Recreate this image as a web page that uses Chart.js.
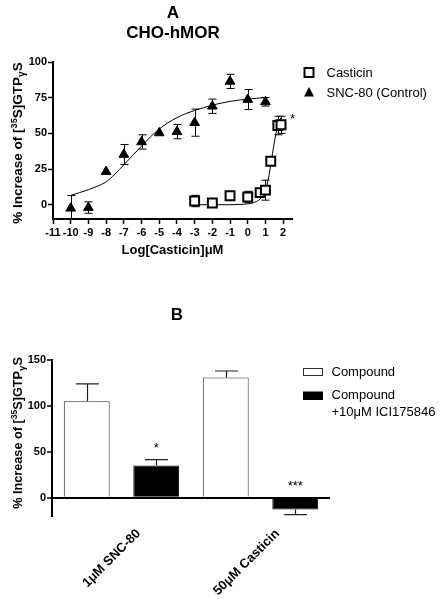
<!DOCTYPE html>
<html><head><meta charset="utf-8">
<script src="https://cdn.jsdelivr.net/npm/chart.js@4.4.0/dist/chart.umd.min.js"></script>
<style>
body{margin:0;background:#fff;width:442px;height:599px;position:relative;overflow:hidden;font-family:"Liberation Sans",Arial,sans-serif;color:#000;}
canvas{position:absolute;left:0;}
.t{position:absolute;font-weight:bold;white-space:nowrap;transform:translate(-50%,-50%);line-height:1;}
.yt{position:absolute;font-weight:bold;white-space:nowrap;transform:translate(-50%,-50%) rotate(-90deg);line-height:1;}
.sup{font-size:0.68em;position:relative;top:-0.55em;}
.sub{font-size:0.75em;position:relative;top:0.3em;}
</style></head><body>
<canvas id="cA" width="442" height="290" style="top:0"></canvas>
<canvas id="cB" width="442" height="309" style="top:290px"></canvas>
<div class="t" style="left:173px;top:12px;font-size:17px">A</div>
<div class="t" style="left:173px;top:32px;font-size:17px">CHO-hMOR</div>
<div class="t" style="left:177px;top:314px;font-size:17px">B</div>
<div class="yt" style="left:18px;top:143px;font-size:13.5px">% Increase of [<span class="sup">35</span>S]GTP<span class="sub">γ</span>S</div>
<div class="yt" style="left:18px;top:433px;font-size:12.7px">% Increase of [<span class="sup">35</span>S]GTP<span class="sub">γ</span>S</div>
<script>
// ---------- Panel A data ----------
const xTicksA = [-11,-10,-9,-8,-7,-6,-5,-4,-3,-2,-1,0,1,2];
const yTicksA = [0,25,50,75,100];
const casticinX   = [-3,-2,-1,0,0.7,1,1.3,1.7,1.88];
const casticinY   = [2.6,1.2,6.3,5.4,8.5,10.2,30.5,55.5,56];
const casticinErr = [4,0,0,4,0,7,0,6.5,6];
const sncX   = [-10,-9,-8,-7,-6,-5,-4,-3,-2,-1,0,1];
const sncY   = [-2.5,-2,23.2,35.2,44,50.3,51.2,57.5,69,86.4,73.7,72.1];
const sncErr = [9,4,0,7,5,0,5,9.5,5,5,7,3];
const sncFitX = [-10,-9.5,-9,-8.5,-8,-7.5,-7,-6.5,-6,-5.5,-5,-4.5,-4,-3.5,-3,-2.5,-2,-1.5,-1,-0.5,0,0.5,1];
const sncFitY = [6.5,8.5,10.5,13,16,21.5,28,34.5,41,47.5,53,57.5,61,63.8,66,68,69.8,71.2,72.4,73.3,74,74.6,75];
const casFitX = [-3,-2,-1,-0.5,0,0.3,0.5,0.7,0.9,1,1.1,1.2,1.3,1.4,1.5,1.6,1.7,1.8,1.88];
const casFitY = [0,0,0,0.2,0.6,1.3,2.3,4,7.5,10.5,14.5,20.5,28,36,43.5,50,55.5,59,61];
const seriesNamesA = ['Casticin','SNC-80 (Control)'];
const xTitleA = 'Log[Casticin]μM';
const sigA = '*';

// ---------- Panel B data ----------
const categoriesB = ['1μM SNC-80','50μM Casticin'];
const seriesNamesB = ['Compound','Compound\n+10μM ICI175846'];
const compoundVals = [105,131];
const compoundErr  = [19,7];
const iciVals = [35,-13];
const iciErr  = [6.5,5.5];
const yTicksB = [0,50,100,150];
const sigB = ['*','***'];

const pts = (xs,ys)=>xs.map((x,i)=>({x:x,y:ys[i]}));
const FONT = '"Liberation Sans", Arial, sans-serif';

// ---------- Panel A ----------
const errPluginA = {
  id:'errA',
  beforeDatasetsDraw(chart){
    const ctx=chart.ctx, xs=chart.scales.x, ys=chart.scales.y, ca=chart.chartArea;
    ctx.save();
    ctx.beginPath(); ctx.rect(ca.left, ca.top-15, ca.right-ca.left+10, ca.bottom-ca.top+15); ctx.clip();
    ctx.strokeStyle='#000'; ctx.lineWidth=1;
    [[casticinX,casticinY,casticinErr],[sncX,sncY,sncErr]].forEach(([X,Y,E])=>{
      X.forEach((xv,i)=>{
        const e=E[i]; if(!e) return;
        const px=Math.round(xs.getPixelForValue(xv))+0.5;
        const t=ys.getPixelForValue(Y[i]+e), b=ys.getPixelForValue(Y[i]-e);
        ctx.beginPath();
        ctx.moveTo(px,t); ctx.lineTo(px,b);
        ctx.moveTo(px-4,t); ctx.lineTo(px+4,t);
        ctx.moveTo(px-4,b); ctx.lineTo(px+4,b);
        ctx.stroke();
      });
    });
    ctx.restore();
  },
  afterDraw(chart){
    const ctx=chart.ctx, xs=chart.scales.x, ys=chart.scales.y;
    ctx.save();
    const n=casticinX.length-1;
    ctx.fillStyle='#000'; ctx.font='13px '+FONT; ctx.textBaseline='middle'; ctx.textAlign='left';
    ctx.fillText(sigA, xs.getPixelForValue(casticinX[n])+9, ys.getPixelForValue(casticinY[n]+casticinErr[n])+3);
    ctx.font='13px '+FONT;
    ctx.fillStyle='#fff'; ctx.strokeStyle='#000'; ctx.lineWidth=2;
    ctx.fillRect(304.5,68,9,9); ctx.strokeRect(304.5,68,9,9);
    ctx.fillStyle='#000';
    ctx.fillText(seriesNamesA[0],326.5,73);
    ctx.beginPath(); ctx.moveTo(309,87); ctx.lineTo(314,96.5); ctx.lineTo(304,96.5); ctx.closePath(); ctx.fill();
    ctx.fillText(seriesNamesA[1],326.5,93);
    ctx.restore();
  }
};

new Chart(document.getElementById('cA'),{
  type:'scatter',
  data:{datasets:[
    {label:'fitS',data:pts(sncFitX,sncFitY),showLine:true,pointRadius:0,borderColor:'#000',borderWidth:1,cubicInterpolationMode:'monotone',order:3},
    {label:'fitC',data:pts(casFitX,casFitY),showLine:true,pointRadius:0,borderColor:'#000',borderWidth:1,cubicInterpolationMode:'monotone',order:3},
    {label:seriesNamesA[1],data:pts(sncX,sncY),pointStyle:'triangle',pointRadius:5.6,backgroundColor:'#000',borderColor:'#000',borderWidth:1,order:2},
    {label:seriesNamesA[0],data:pts(casticinX,casticinY),pointStyle:'rect',pointRadius:6.3,backgroundColor:'#fff',borderColor:'#000',borderWidth:2,order:1}
  ]},
  options:{
    responsive:false,animation:false,devicePixelRatio:1,
    layout:{padding:{left:0,top:62,right:150,bottom:31}},
    plugins:{legend:{display:false},tooltip:{enabled:false}},
    scales:{
      x:{type:'linear',min:-11,max:2.5,
        afterBuildTicks:s=>{s.ticks=xTicksA.map(v=>({value:v}));},
        afterFit:s=>{s.height=40;},
        ticks:{font:{family:FONT,size:11,weight:'bold'},color:'#000',padding:2,maxRotation:0,autoSkip:false},
        grid:{drawOnChartArea:false,drawTicks:true,tickLength:5,tickColor:'#000',tickWidth:1.5},
        border:{color:'#000',width:2},
        title:{display:true,text:xTitleA,font:{family:FONT,size:13,weight:'bold'},color:'#000',padding:{top:0,bottom:1}}
      },
      y:{min:-10,max:100,
        afterBuildTicks:s=>{s.ticks=yTicksA.map(v=>({value:v}));},
        afterFit:s=>{s.width=53;},
        ticks:{font:{family:FONT,size:11,weight:'bold'},color:'#000',padding:1},
        grid:{drawOnChartArea:false,drawTicks:true,tickLength:5,tickColor:'#000',tickWidth:1.5},
        border:{color:'#000',width:2}
      }
    }
  },
  plugins:[errPluginA]
});

// ---------- Panel B ----------
const errPluginB = {
  id:'errB',
  afterDatasetsDraw(chart){
    const ctx=chart.ctx, ys=chart.scales.y;
    ctx.save();
    ctx.strokeStyle='#222'; ctx.lineWidth=1.2;
    [[compoundVals,compoundErr],[iciVals,iciErr]].forEach(([V,E],d)=>{
      const meta=chart.getDatasetMeta(d);
      V.forEach((v,i)=>{
        const bar=meta.data[i]; const e=E[i]; const sgn=v<0?-1:1;
        const px=Math.round(bar.x)+0.5;
        const a=ys.getPixelForValue(v), t=ys.getPixelForValue(v+sgn*e);
        const hw=bar.width/4;
        ctx.beginPath(); ctx.moveTo(px,a); ctx.lineTo(px,t);
        ctx.moveTo(px-hw,t); ctx.lineTo(px+hw,t); ctx.stroke();
      });
    });
    const meta=chart.getDatasetMeta(1);
    ctx.fillStyle='#000'; ctx.font='13px '+FONT; ctx.textAlign='center'; ctx.textBaseline='middle';
    iciVals.forEach((v,i)=>{
      const top = v>0 ? v+iciErr[i] : 0;
      ctx.fillText(sigB[i], meta.data[i].x, ys.getPixelForValue(top)-11);
    });
    ctx.restore();
  },
  afterDraw(chart){
    const ctx=chart.ctx;
    ctx.save();
    ctx.font='13px '+FONT; ctx.textBaseline='middle'; ctx.textAlign='left';
    ctx.fillStyle='#fff'; ctx.strokeStyle='#333'; ctx.lineWidth=1;
    ctx.fillRect(303.5,78.5,19,7); ctx.strokeRect(303.5,78.5,19,7);
    ctx.fillStyle='#000';
    ctx.fillText(seriesNamesB[0],331.5,82);
    ctx.fillRect(303,101.5,20,8.5);
    const lines=seriesNamesB[1].split('\n');
    ctx.fillText(lines[0],331.5,105.5);
    ctx.fillText(lines[1],331.5,122);
    ctx.restore();
  }
};

new Chart(document.getElementById('cB'),{
  type:'bar',
  data:{labels:categoriesB,datasets:[
    {label:seriesNamesB[0],data:compoundVals,backgroundColor:'#fff',borderColor:'#333',borderWidth:1},
    {label:seriesNamesB[1],data:iciVals,backgroundColor:'#000',borderColor:'#000',borderWidth:1}
  ]},
  options:{
    responsive:false,animation:false,devicePixelRatio:1,
    categoryPercentage:1,barPercentage:0.66,
    layout:{padding:{left:0,top:70,right:112,bottom:3}},
    plugins:{legend:{display:false},tooltip:{enabled:false}},
    scales:{
      x:{
        afterFit:s=>{s.height=80;},
        ticks:{font:{family:FONT,size:13,weight:'bold'},color:'#000',maxRotation:45,minRotation:45,padding:2,labelOffset:17,autoSkip:false},
        grid:{display:false},
        border:{display:false}
      },
      y:{min:-20,max:150,
        afterBuildTicks:s=>{s.ticks=yTicksB.map(v=>({value:v}));},
        afterFit:s=>{s.width=52;},
        ticks:{font:{family:FONT,size:11,weight:'bold'},color:'#000',padding:1},
        grid:{drawOnChartArea:true,color:c=>(c.tick&&c.tick.value===0)?'#000':'rgba(0,0,0,0)',lineWidth:2,drawTicks:true,tickLength:5,tickColor:'#000',tickWidth:1.5},
        border:{color:'#000',width:2}
      }
    }
  },
  plugins:[errPluginB]
});
</script>
</body></html>
